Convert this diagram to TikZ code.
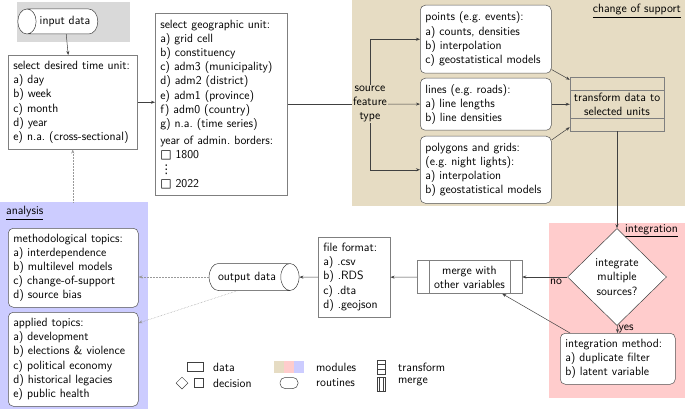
\documentclass[tikz,border=0pt]{standalone}
\usepackage{fontspec}
\newfontfamily\symfont{DejaVu Sans}
\usepackage{tikz}
\usetikzlibrary{positioning,arrows.meta,shapes.geometric}
\definecolor{ModTan}{HTML}{E6DCC3}
\definecolor{ModPink}{HTML}{FFCCCC}
\definecolor{ModBlue}{HTML}{CCCCFF}
\definecolor{InGray}{HTML}{D9D9D9}
\definecolor{BoxLine}{HTML}{7F7F7F}
\definecolor{ArrLine}{HTML}{404040}
\newcommand{\tick}{{\symfont □}}
\newcommand{\smallvdots}{{\symfont ⋮}}

\begin{document}
\begin{tikzpicture}[
  x=1pt, y=-1pt,
  font=\sffamily\fontsize{12}{14.2}\selectfont,
  module/.style={anchor=north west, inner sep=0pt, outer sep=0pt},
  box/.style={draw=BoxLine, fill=white, anchor=north west, align=left, inner xsep=5pt, inner ysep=4pt, line width=0.5pt},
  routine/.style={box, rounded corners=5pt, draw=ArrLine!90},
  datacyl/.style={shape=cylinder, draw=ArrLine, fill=white, line width=0.5pt, aspect=1.25, inner sep=2pt},
  arr/.style={-{Stealth[length=4pt,width=3pt]}, draw=ArrLine, line width=0.5pt},
  dotarr/.style={arr, densely dotted, draw=black!40},
  plain/.style={draw=ArrLine, line width=0.5pt},
  modlabel/.style={inner sep=1pt}
]
% module backgrounds
\node[module, fill=InGray, minimum width=113, minimum height=40] (inputbg) at (17,2) {};
\node[module, fill=ModTan, minimum width=333, minimum height=206] (support) at (352,0) {};
\node[module, fill=ModPink, minimum width=136, minimum height=175] (integ) at (549,223) {};
\node[module, fill=ModBlue, minimum width=148, minimum height=207] (analysis) at (0,202) {};
\node[modlabel, anchor=east] (supportlbl) at (682,11) {\underline{change of support}};
\node[modlabel, anchor=east] (integlbl) at (679,231) {\underline{integration}};
\node[modlabel, anchor=west] (analysislbl) at (5,213) {\underline{analysis}};

% input and units
\node[datacyl, shape border rotate=180, minimum width=25, minimum height=80] (input) at (65,21.5) {input data};
\node[box, text width=119, minimum height=94] (timeunit) at (8,55)
  {select desired time unit:\\a) day\\b) week\\c) month\\d) year\\e) n.a.\ (cross-sectional)};
\node[box, text width=122, minimum height=182] (geo) at (155,13)
  {select geographic unit:\\a) grid cell\\b) constituency\\c) adm3 (municipality)\\d) adm2 (district)\\e) adm1 (province)\\f) adm0 (country)\\g) n.a.\ (time series)\\[3pt]
   year of admin.\ borders:\\\tick\ 1800\\\smallvdots\\\tick\ 2022};

% change of support
\node[align=center, inner sep=1pt] (source) at (370,104) {source\\feature\\type};
\node[routine, text width=121, minimum height=68] (points) at (420,5)
  {points (e.g.\ events):\\a) counts, densities\\b) interpolation\\c) geostatistical models};
\node[routine, text width=121, minimum height=52] (lines) at (420,78)
  {lines (e.g.\ roads):\\a) line lengths\\b) line densities};
\node[routine, text width=121, minimum height=67] (polygons) at (420,136)
  {polygons and grids:\\(e.g.\ night lights):\\a) interpolation\\b) geostatistical models};
\node[draw=BoxLine, line width=0.5pt, minimum width=94, minimum height=54, align=center,
  path picture={
    \draw[BoxLine] ([yshift=-13pt]path picture bounding box.north west) -- ([yshift=-13pt]path picture bounding box.north east);
    \draw[BoxLine] ([yshift=13pt]path picture bounding box.south west) -- ([yshift=13pt]path picture bounding box.south east);
  }] (transform) at (617,104) {transform data to\\selected units};

% integration
\node[diamond, draw=ArrLine, fill=white, line width=0.5pt, minimum width=99, minimum height=97, inner sep=0pt, align=center] (decide) at (617,277) {integrate\\multiple\\sources?};
\node[routine, text width=105, minimum height=51] (method) at (560,333)
  {integration method:\\a) duplicate filter\\b) latent variable};
\node[draw=BoxLine, fill=white, line width=0.5pt, minimum width=105, minimum height=33, align=center,
  path picture={
    \draw[BoxLine] ([xshift=12pt]path picture bounding box.north west) -- ([xshift=12pt]path picture bounding box.south west);
    \draw[BoxLine] ([xshift=-12pt]path picture bounding box.north east) -- ([xshift=-12pt]path picture bounding box.south east);
  }] (merge) at (469.5,277) {merge with\\other variables};

% output
\node[box, text width=62, minimum height=80] (format) at (318,237)
  {file format:\\a) .csv\\b) .RDS\\c) .dta\\d) .geojson};
\node[datacyl, cylinder uses custom fill, cylinder body fill=white, cylinder end fill=black!15, minimum width=27, minimum height=90] (output) at (247,277) {output data};

% analysis
\node[routine, text width=120, minimum height=79] (methods) at (8,228)
  {methodological topics:\\a) interdependence\\b) multilevel models\\c) change-of-support\\d) source bias};
\node[routine, text width=120, minimum height=94] (applied) at (8,312)
  {applied topics:\\a) development\\b) elections \& violence\\c) political economy\\d) historical legacies\\e) public health};

% connectors
\draw[arr] (input) -- (timeunit);
\draw[arr] (timeunit.east) -- (timeunit.east -| geo.west);
\draw[plain] (geo.east) -- (geo.east -| source.west);
\draw[arr] (source.north) |- (points.west);
\draw[arr] (source) -- (lines);
\draw[arr] (source.south) |- (polygons.west);
\draw[arr] ([yshift=4pt]points.south east) -- ([yshift=-3pt]transform.north west);
\draw[arr] (lines.east) -- (lines.east -| transform.west);
\draw[arr] ([yshift=-4pt]polygons.north east) -- ([yshift=4pt]transform.south west);
\draw[arr] (transform) -- (decide);
\draw[arr] (decide) -- node[right, pos=0.5, inner sep=1pt]{yes} (method);
\draw[arr] (decide) -- node[below, pos=0.25, inner sep=2pt]{no} (merge);
\draw[arr] ([xshift=10pt]method.north west) -- ([xshift=-20pt]merge.south east);
\draw[arr] (merge) -- (format);
\draw[arr] (format) -- (output);
\draw[dotarr] (output.west) -- (output.west -| methods.east);
\draw[dotarr] (output.235) -- ([yshift=-11pt]applied.north east);
\draw[dotarr] (timeunit.south |- analysis.north) -- (timeunit.south);

% legend
\node[datacyl, aspect=0.9, minimum width=9, minimum height=16, inner sep=0pt] (legdata) at (195,367) {};
\node[anchor=west, inner sep=0pt] (legdatatxt) at (213,367) {data};
\node[diamond, draw=ArrLine, line width=0.5pt, minimum width=12, minimum height=12, inner sep=0pt] (legdiamond) at (182,383) {};
\node[draw=ArrLine, line width=0.5pt, minimum width=9, minimum height=9, inner sep=0pt] (legsquare) at (199,383) {};
\node[anchor=west, inner sep=0pt] (legdecisiontxt) at (213,383) {decision};
\node[module, fill=ModTan, minimum width=10, minimum height=12] (legtan) at (274,361) {};
\node[module, fill=ModPink, minimum width=10, minimum height=12, right=0pt of legtan] (legpink) {};
\node[module, fill=ModBlue, minimum width=10, minimum height=12, right=0pt of legpink] (legblue) {};
\node[anchor=west, inner sep=0pt] (legmodtxt) at (316,367) {modules};
\node[draw=ArrLine, line width=0.5pt, rounded corners=5pt, minimum width=18, minimum height=11, inner sep=0pt] (legroutine) at (289,383) {};
\node[anchor=west, inner sep=0pt] (legroutinetxt) at (316,383) {routines};
\node[draw=ArrLine, line width=0.5pt, minimum width=8, minimum height=14, inner sep=0pt,
  path picture={
    \draw ([yshift=-4.7pt]path picture bounding box.north west) -- ([yshift=-4.7pt]path picture bounding box.north east);
    \draw ([yshift=4.7pt]path picture bounding box.south west) -- ([yshift=4.7pt]path picture bounding box.south east);
  }] (legtransform) at (381,367) {};
\node[anchor=west, inner sep=0pt] (legtransformtxt) at (398,367) {transform};
\node[draw=ArrLine, line width=0.5pt, minimum width=8, minimum height=14, inner sep=0pt,
  path picture={
    \draw ([xshift=2pt]path picture bounding box.north west) -- ([xshift=2pt]path picture bounding box.south west);
    \draw ([xshift=-2pt]path picture bounding box.north east) -- ([xshift=-2pt]path picture bounding box.south east);
  }] (legmerge) at (381,384) {};
\node[anchor=west, inner sep=0pt] (legmergetxt) at (398,382) {merge};

\useasboundingbox (0,0) rectangle (685,409);
\end{tikzpicture}
\end{document}
